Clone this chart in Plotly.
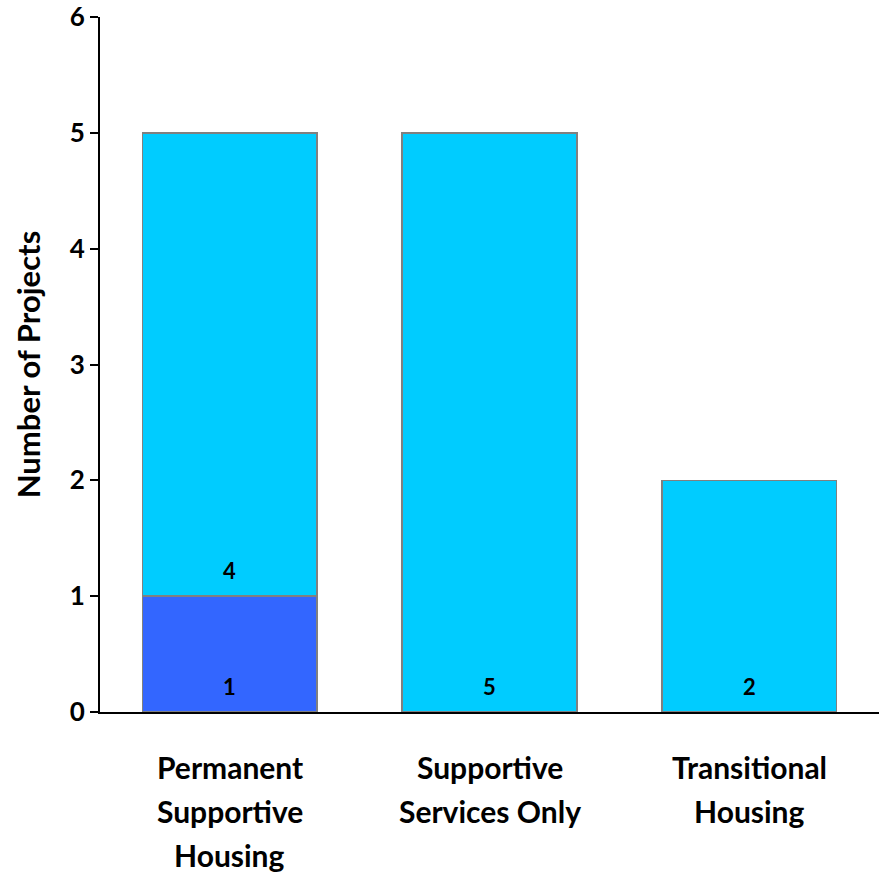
import plotly.graph_objects as go

categories = ["Permanent<br>Supportive<br>Housing", "Supportive<br>Services Only", "Transitional<br>Housing"]
series1_name = "Series A"
series1 = [1, 0, 0]
series2_name = "Series B"
series2 = [4, 5, 2]
y_ticks = [0, 1, 2, 3, 4, 5, 6]

FONT = "Lato"
xs = [0, 1, 2]

fig = go.Figure()
fig.add_trace(go.Bar(x=xs, y=series1, name=series1_name, width=0.673,
                     marker=dict(color="#3366FF", line=dict(color="#808080", width=1.5))))
fig.add_trace(go.Bar(x=xs, y=series2, name=series2_name, width=0.673,
                     marker=dict(color="#00CCFF", line=dict(color="#808080", width=1.5))))

annotations = []
for i, x in enumerate(xs):
    base = 0
    for vals in (series1, series2):
        v = vals[i]
        if v > 0:
            annotations.append(dict(x=x, y=base, xref="x", yref="y", text=str(v), showarrow=False,
                                    yanchor="middle", yshift=26,
                                    font=dict(family=FONT, size=22, color="black", weight="bold")))
        base += v
    lines = categories[i].split("<br>")
    for j, line in enumerate(lines):
        annotations.append(dict(x=x, y=0, xref="x", yref="paper", text=line, showarrow=False,
                                yanchor="middle", yshift=-55 - 44 * j,
                                font=dict(family=FONT, size=30, color="black", weight="bold")))

fig.update_layout(
    barmode="stack",
    width=879, height=875,
    margin=dict(l=100, r=0, t=15, b=163),
    plot_bgcolor="white", paper_bgcolor="white",
    showlegend=False,
    annotations=annotations,
    xaxis=dict(range=[-0.5, 2.5], tickvals=xs, showticklabels=False, ticks="",
               showline=True, linecolor="black", linewidth=2, showgrid=False, zeroline=False),
    yaxis=dict(range=[0, 6], tickvals=y_ticks, ticks="outside", ticklen=8, tickwidth=1.5,
               tickcolor="black", showline=True, linecolor="black", linewidth=2,
               showgrid=False, zeroline=False, ticklabeloverflow="allow",
               tickfont=dict(family=FONT, size=26, color="black", weight="bold"),
               title=dict(text="Number of Projects", standoff=20,
                          font=dict(family=FONT, size=31, color="black", weight="bold"))),
)

fig.write_html("out.html", config={"displayModeBar": False},
               post_script="document.body.style.margin='0';")
